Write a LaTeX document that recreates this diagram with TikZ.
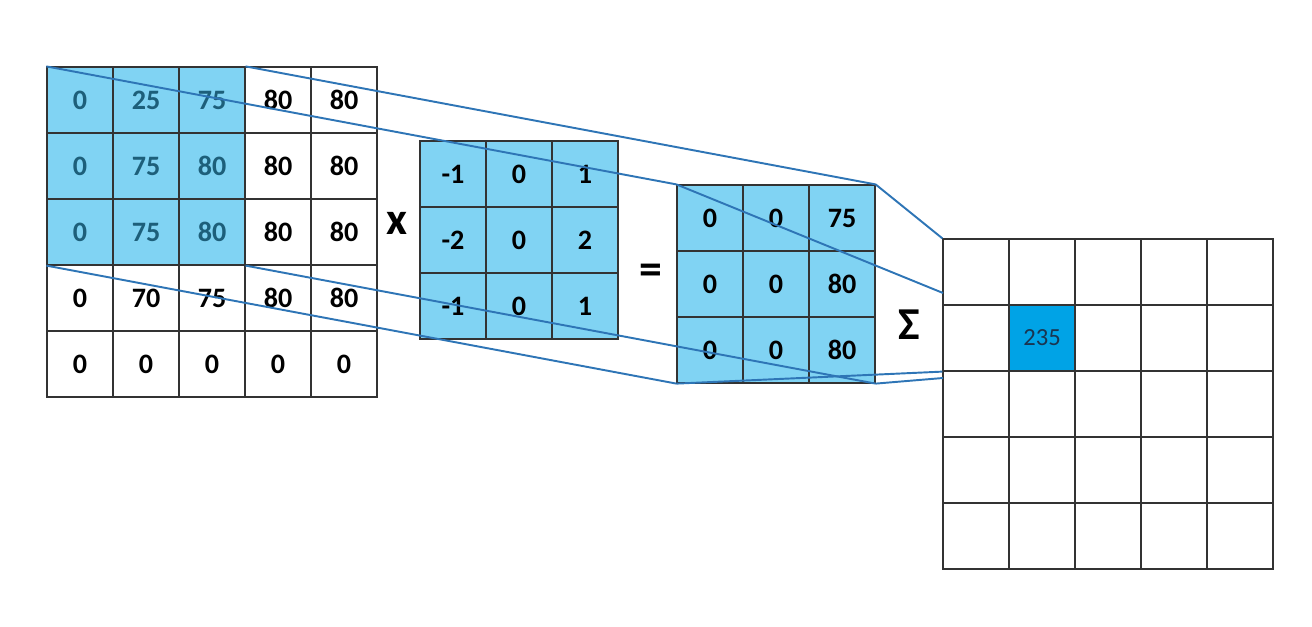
\documentclass[tikz,border=0pt]{standalone}
\usepackage{fontspec}
\setmainfont{Carlito}
\usetikzlibrary{positioning}
\definecolor{cellblue}{HTML}{80D3F3}
\definecolor{hotblue}{HTML}{00A3E6}
\definecolor{linkblue}{HTML}{2E75B6}
\definecolor{gridgray}{HTML}{333333}
\definecolor{darkteal}{HTML}{1D5F7A}
\definecolor{navytext}{HTML}{1A3550}

\begin{document}
\begin{tikzpicture}[x=0.02cm, y=-0.02cm,
        cell/.style={rectangle, draw=gridgray, line width=0.7pt, minimum size=1.32cm, inner sep=0pt, font=\fontsize{16}{16}\selectfont\bfseries},
        lit1/.style={fill=cellblue, text=darkteal},
        lit0/.style={},
        link/.style={draw=linkblue, line width=1.1pt},
        sign/.style={font=\fontsize{26}{28}\selectfont\bfseries}]
      \useasboundingbox (0,0) rectangle (1312,626);
      % Input image
      \foreach \row/\vals in {1/{0,25,75,80,80}, 2/{0,75,80,80,80}, 3/{0,75,80,80,80}, 4/{0,70,75,80,80}, 5/{0,0,0,0,0}}
        \foreach \v [count=\col] in \vals {
          \pgfmathtruncatemacro\lit{and(\row<4,\col<4)}
          \node[cell, lit\lit] (in-\row-\col) at ({47+66*(\col-0.5)}, {67+66*(\row-0.5)}) {\v};
        }
      
      % Kernel
      \foreach \row/\vals in {1/{-1,0,1}, 2/{-2,0,2}, 3/{-1,0,1}}
        \foreach \v [count=\col] in \vals
          \node[cell, fill=cellblue] (k-\row-\col) at ({420+66*(\col-0.5)}, {141+66*(\row-0.5)}) {\v};
      
      % Products
      \foreach \row/\vals in {1/{0,0,75}, 2/{0,0,80}, 3/{0,0,80}}
        \foreach \v [count=\col] in \vals
          \node[cell, fill=cellblue] (res-\row-\col) at ({677+66*(\col-0.5)}, {185+66*(\row-0.5)}) {\v};
      
      % Output map
      \foreach \row in {1,...,5}
        \foreach \col in {1,...,5}
          \node[cell] (out-\row-\col) at ({943+66*(\col-0.5)}, {239+66*(\row-0.5)}) {};
      \node[cell, fill=hotblue, text=navytext, font=\fontsize{14}{14}\selectfont] (hit) at (out-2-2) {235};
      
      % Operators
      \node[sign] (times) at (397,223) {x};
      \node[sign] (equals) at (651,274) {=};
      \node[sign] (sum) at (909,325) {Σ};
      
      % Projection lines
      \coordinate (endA) at (943,293);
      \coordinate (endB) at (943,378);
      \draw[link] (in-1-1.north west) -- (res-1-1.north west);
      \draw[link] (in-1-3.north east) -- (res-1-3.north east);
      \draw[link] (in-3-1.south west) -- (res-3-1.south west);
      \draw[link] (in-3-3.south east) -- (res-3-3.south east);
      \draw[link] (res-1-1.north west) -- (endA);
      \draw[link] (res-1-3.north east) -- (out-1-1.north west);
      \draw[link] (res-3-1.south west) -- (out-2-1.south west);
      \draw[link] (res-3-3.south east) -- (endB);
    \end{tikzpicture}
\end{document}
